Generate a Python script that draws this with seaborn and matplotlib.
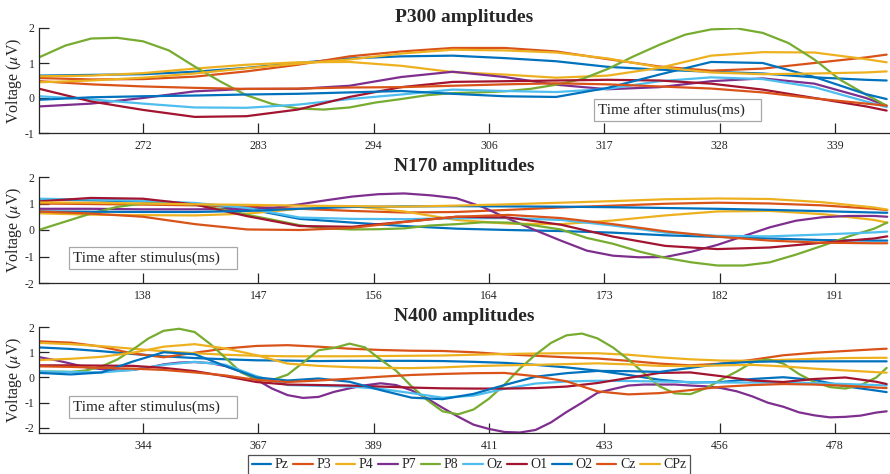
import numpy as np
import pandas as pd
import matplotlib
matplotlib.use("Agg")
import matplotlib.pyplot as plt
from matplotlib.lines import Line2D
from matplotlib.patches import Rectangle
import seaborn as sns

channels = ["Pz", "P3", "P4", "P7", "P8", "Oz", "O1", "O2", "Cz", "CPz"]
colors = ["#0072BD", "#D95319", "#EDB120", "#7E2F8E", "#77AC30",
          "#4DBEEE", "#A2142F", "#0072BD", "#D95319", "#EDB120"]

# ---------------- P300 panel ----------------
p300_time = [262, 267, 272, 277, 282, 287, 292, 297, 302, 307, 312, 317, 322, 327, 332, 337, 342, 344]
p300_Pz  = [0.64, 0.66, 0.68, 0.75, 0.86, 1.00, 1.13, 1.19, 1.21, 1.14, 1.05, 0.89, 0.81, 0.75, 0.70, 0.59, 0.52, 0.50]
p300_P3  = [0.57, 0.53, 0.54, 0.61, 0.76, 0.95, 1.19, 1.33, 1.43, 1.43, 1.33, 1.11, 0.90, 0.78, 0.84, 1.00, 1.16, 1.24]
p300_P4  = [0.62, 0.64, 0.71, 0.84, 0.95, 1.02, 1.03, 0.92, 0.74, 0.67, 0.58, 0.64, 0.86, 1.21, 1.31, 1.30, 1.11, 1.02]
p300_P7  = [-0.24, -0.16, 0.00, 0.19, 0.26, 0.26, 0.35, 0.60, 0.75, 0.60, 0.38, 0.25, 0.31, 0.48, 0.56, 0.41, 0.00, -0.22]
p300_Oz  = [0.05, -0.04, -0.16, -0.27, -0.28, -0.19, -0.03, 0.10, 0.24, 0.20, 0.17, 0.26, 0.48, 0.59, 0.54, 0.31, -0.10, -0.26]
p300_O1  = [0.26, -0.10, -0.34, -0.54, -0.52, -0.33, 0.03, 0.31, 0.46, 0.48, 0.50, 0.52, 0.50, 0.41, 0.24, 0.00, -0.24, -0.36]
p300_O2  = [-0.05, 0.02, 0.05, 0.07, 0.10, 0.12, 0.16, 0.20, 0.12, 0.05, 0.03, 0.29, 0.67, 1.03, 1.00, 0.60, 0.11, -0.03]
p300_Cz  = [0.48, 0.39, 0.33, 0.29, 0.26, 0.27, 0.30, 0.31, 0.35, 0.39, 0.42, 0.39, 0.33, 0.27, 0.16, -0.01, -0.16, -0.22]
p300_CPz = [0.45, 0.50, 0.58, 0.70, 0.85, 0.98, 1.10, 1.27, 1.38, 1.36, 1.30, 1.13, 0.88, 0.73, 0.68, 0.70, 0.73, 0.76]
# P8 oscillates faster, so it was read on a finer time grid
p300_P8_time = [262, 264.5, 267, 269.5, 272, 274.5, 277, 279.5, 282, 284.5, 287, 289.5, 292, 294.5, 297, 299.5,
                302, 304.5, 307, 309.5, 312, 314.5, 317, 319.5, 322, 324.5, 327, 329.5, 332, 334.5, 337, 339.5,
                342, 344]
p300_P8 = [1.17, 1.50, 1.70, 1.72, 1.62, 1.36, 0.90, 0.47, 0.08, -0.17, -0.30, -0.33, -0.27, -0.13, -0.03, 0.08,
           0.14, 0.16, 0.19, 0.26, 0.38, 0.54, 0.83, 1.19, 1.52, 1.81, 1.96, 1.99, 1.86, 1.57, 1.10, 0.52,
           0.10, -0.22]
p300_ticks = [272, 283, 294, 306, 317, 328, 339]

# ---------------- N170 panel ----------------
n170_time = [130, 134, 138, 142, 146, 150, 154, 158, 162, 166, 170, 174, 178, 182, 186, 190, 194, 195]
n170_Pz  = [1.16, 1.12, 1.08, 0.98, 0.80, 0.42, 0.28, 0.15, 0.05, 0.00, -0.04, -0.10, -0.20, -0.26, -0.32, -0.38, -0.40, -0.40]
n170_P3  = [1.00, 0.98, 0.96, 0.93, 0.88, 0.80, 0.72, 0.66, 0.68, 0.76, 0.85, 0.92, 0.99, 1.03, 1.00, 0.93, 0.80, 0.75]
n170_P4  = [0.63, 0.58, 0.56, 0.55, 0.62, 0.80, 0.90, 0.70, 0.38, 0.24, 0.22, 0.36, 0.55, 0.70, 0.72, 0.60, 0.38, 0.28]
n170_Oz  = [1.18, 1.15, 1.10, 1.02, 0.83, 0.47, 0.42, 0.41, 0.44, 0.45, 0.38, 0.17, -0.10, -0.22, -0.24, -0.17, -0.09, -0.06]
n170_O1  = [1.08, 1.21, 1.18, 0.96, 0.52, 0.15, 0.12, 0.31, 0.50, 0.47, 0.20, -0.25, -0.60, -0.72, -0.66, -0.48, -0.32, -0.24]
n170_O2  = [0.70, 0.69, 0.68, 0.68, 0.72, 0.80, 0.87, 0.89, 0.90, 0.89, 0.88, 0.86, 0.83, 0.80, 0.76, 0.71, 0.66, 0.65]
n170_Cz  = [0.70, 0.62, 0.50, 0.22, 0.02, 0.00, 0.08, 0.30, 0.50, 0.57, 0.45, 0.22, -0.05, -0.25, -0.40, -0.48, -0.50, -0.50]
n170_CPz = [1.04, 1.03, 1.00, 0.97, 0.95, 0.92, 0.90, 0.88, 0.92, 0.97, 1.03, 1.09, 1.16, 1.19, 1.17, 1.05, 0.85, 0.77]
# P7 and P8 vary faster, so they were read on a finer time grid
n170_fine_time = [130, 132, 134, 136, 138, 140, 142, 144, 146, 148, 150, 152, 154, 156, 158, 160, 162,
                  164, 166, 168, 170, 172, 174, 176, 178, 180, 182, 184, 186, 188, 190, 192, 194, 195]
n170_P7 = [0.80, 0.80, 0.80, 0.79, 0.78, 0.78, 0.78, 0.79, 0.80, 0.84, 0.97, 1.12, 1.26, 1.35, 1.38, 1.31, 1.20,
           0.87, 0.42, 0.00, -0.40, -0.78, -0.97, -1.03, -1.02, -0.82, -0.56, -0.23, 0.10, 0.35, 0.48, 0.53,
           0.53, 0.50]
n170_P8 = [0.00, 0.31, 0.62, 0.87, 1.00, 1.01, 0.96, 0.78, 0.57, 0.38, 0.18, 0.06, 0.02, 0.03, 0.06, 0.17, 0.22,
           0.29, 0.28, 0.17, 0.02, -0.30, -0.52, -0.81, -1.05, -1.22, -1.34, -1.34, -1.22, -0.93, -0.60, -0.25,
           0.05, 0.28]
n170_ticks = [138, 147, 156, 164, 173, 182, 191]

# ---------------- N400 panel ----------------
n400_time = [324, 330, 336, 342, 348, 354, 360, 366, 372, 378, 384, 390, 396, 402, 408,
             414, 420, 426, 432, 438, 444, 450, 456, 462, 468, 474, 480, 486, 488]
n400_Pz  = [1.19, 1.13, 1.04, 0.93, 0.84, 0.77, 0.72, 0.68, 0.67, 0.65, 0.66, 0.66, 0.66, 0.65, 0.62,
            0.58, 0.50, 0.40, 0.27, 0.10, -0.09, -0.20, -0.18, -0.06, 0.01, -0.10, -0.35, -0.52, -0.58]
n400_P3  = [1.43, 1.38, 1.22, 0.95, 0.80, 0.98, 1.15, 1.25, 1.28, 1.22, 1.14, 1.09, 1.06, 1.05, 1.00,
            0.92, 0.86, 0.80, 0.75, 0.66, 0.55, 0.48, 0.55, 0.70, 0.88, 0.98, 1.05, 1.12, 1.14]
n400_P4  = [1.37, 1.32, 1.24, 1.14, 1.04, 0.96, 0.90, 0.86, 0.84, 0.84, 0.84, 0.85, 0.86, 0.87, 0.90,
            0.93, 0.95, 0.96, 0.96, 0.90, 0.80, 0.72, 0.67, 0.66, 0.70, 0.74, 0.77, 0.78, 0.78]
n400_Oz  = [0.24, 0.22, 0.20, 0.30, 0.50, 0.62, 0.50, 0.05, -0.30, -0.33, -0.36, -0.45, -0.62, -0.80, -0.72,
            -0.45, -0.24, -0.16, -0.13, -0.14, -0.16, -0.18, -0.20, -0.20, -0.20, -0.22, -0.26, -0.30, -0.32]
n400_O1  = [0.48, 0.48, 0.47, 0.46, 0.38, 0.25, 0.05, -0.18, -0.28, -0.30, -0.32, -0.36, -0.40, -0.43, -0.44,
            -0.44, -0.42, -0.36, -0.22, -0.02, 0.18, 0.20, 0.05, -0.12, -0.18, -0.06, 0.00, -0.17, -0.26]
n400_O2  = [0.18, 0.12, 0.20, 0.63, 1.00, 0.92, 0.45, 0.00, -0.12, -0.04, -0.17, -0.50, -0.80, -0.86, -0.65,
            -0.30, 0.03, 0.17, 0.26, 0.25, 0.22, 0.38, 0.55, 0.62, 0.64, 0.64, 0.64, 0.64, 0.64]
n400_Cz  = [0.44, 0.42, 0.38, 0.35, 0.30, 0.20, 0.08, -0.10, -0.18, -0.12, -0.05, 0.03, 0.10, 0.14, 0.17,
            0.18, 0.05, -0.15, -0.55, -0.67, -0.62, -0.50, -0.37, -0.30, -0.26, -0.28, -0.33, -0.40, -0.42]
n400_CPz = [0.69, 0.74, 0.82, 0.98, 1.22, 1.32, 1.15, 0.88, 0.55, 0.46, 0.41, 0.38, 0.37, 0.40, 0.45,
            0.48, 0.50, 0.53, 0.56, 0.52, 0.46, 0.45, 0.48, 0.50, 0.44, 0.35, 0.28, 0.21, 0.19]
# P7 and P8 oscillate faster, so they were read on a finer time grid
n400_fine_time = [324, 327, 330, 333, 336, 339, 342, 345, 348, 351, 354, 357, 360, 363, 366, 369, 372, 375,
                  378, 381, 384, 387, 390, 393, 396, 399, 402, 405, 408, 411, 414, 417, 420, 423, 426, 429,
                  432, 435, 438, 441, 444, 447, 450, 453, 456, 459, 462, 465, 468, 471, 474, 477, 480, 483,
                  486, 488]
n400_P7 = [0.80, 0.69, 0.55, 0.40, 0.33, 0.28, 0.30, 0.39, 0.52, 0.59, 0.61, 0.57, 0.45, 0.23, -0.09, -0.44,
           -0.70, -0.81, -0.77, -0.57, -0.43, -0.31, -0.23, -0.30, -0.51, -0.83, -1.20, -1.55, -1.87, -2.04,
           -2.16, -2.18, -2.08, -1.78, -1.37, -1.00, -0.61, -0.46, -0.32, -0.28, -0.28, -0.28, -0.32, -0.35,
           -0.42, -0.55, -0.75, -1.00, -1.16, -1.38, -1.50, -1.58, -1.56, -1.51, -1.39, -1.34]
n400_P8 = [0.24, 0.23, 0.22, 0.28, 0.44, 0.71, 1.10, 1.54, 1.85, 1.93, 1.80, 1.33, 0.77, 0.20, -0.06, -0.10,
           0.11, 0.59, 1.08, 1.17, 1.34, 1.19, 0.71, 0.27, -0.35, -0.89, -1.34, -1.46, -1.27, -0.84, -0.28,
           0.36, 0.90, 1.37, 1.67, 1.74, 1.55, 1.19, 0.71, 0.17, -0.35, -0.63, -0.66, -0.43, -0.08, 0.24,
           0.60, 0.72, 0.55, 0.14, -0.18, -0.38, -0.44, -0.30, 0.00, 0.38]
n400_ticks = [344, 367, 389, 411, 433, 456, 478]

titles = ["P300 amplitudes", "N170 amplitudes", "N400 amplitudes"]
xlabel_text = "Time after stimulus(ms)"

panels = [
    (titles[0], p300_ticks, [-1, 0, 1, 2],
     [(p300_time, p300_Pz), (p300_time, p300_P3), (p300_time, p300_P4), (p300_time, p300_P7),
      (p300_P8_time, p300_P8), (p300_time, p300_Oz), (p300_time, p300_O1), (p300_time, p300_O2),
      (p300_time, p300_Cz), (p300_time, p300_CPz)]),
    (titles[1], n170_ticks, [-2, -1, 0, 1, 2],
     [(n170_time, n170_Pz), (n170_time, n170_P3), (n170_time, n170_P4), (n170_fine_time, n170_P7),
      (n170_fine_time, n170_P8), (n170_time, n170_Oz), (n170_time, n170_O1), (n170_time, n170_O2),
      (n170_time, n170_Cz), (n170_time, n170_CPz)]),
    (titles[2], n400_ticks, [-2, -1, 0, 1, 2],
     [(n400_time, n400_Pz), (n400_time, n400_P3), (n400_time, n400_P4), (n400_fine_time, n400_P7),
      (n400_fine_time, n400_P8), (n400_time, n400_Oz), (n400_time, n400_O1), (n400_time, n400_O2),
      (n400_time, n400_Cz), (n400_time, n400_CPz)]),
]

# ---------------- layout (pixels of an 890x474 canvas) ----------------
W, H = 890.0, 474.0
ax_left_px, ax_right_px = 38.5, 890.0
tick_first_px, tick_last_px = 143.0, 835.0
ax_rows = [(28.0, 133.0), (177.0, 283.0), (327.0, 433.0)]
ylims = [(-1.0, 2.0), (-2.0, 2.0), (-2.2, 2.0)]
box_px = [(594.0, 99.0, 761.0, 121.0), (69.3, 247.0, 236.7, 269.0), (69.3, 396.0, 236.7, 418.0)]

sns.set_style("ticks")
plt.rcParams["font.family"] = ["Liberation Serif", "DejaVu Serif"]
plt.rcParams["mathtext.fontset"] = "stix"
plt.rcParams["axes.unicode_minus"] = False

ink = "#262626"
fig = plt.figure(figsize=(W / 100, H / 100), dpi=100)

for i, (title, ticks, yticks, series) in enumerate(panels):
    top, bot = ax_rows[i]
    ax = fig.add_axes([ax_left_px / W, 1 - bot / H, (ax_right_px - ax_left_px) / W, (bot - top) / H])

    frames = []
    for ch, (t, v) in zip(channels, series):
        frames.append(pd.DataFrame({"time": np.asarray(t, float),
                                    "voltage": np.asarray(v, float),
                                    "channel": ch}))
    df = pd.concat(frames, ignore_index=True)
    sns.lineplot(data=df, x="time", y="voltage", hue="channel", hue_order=channels,
                 palette=colors, estimator=None, linewidth=1.6, legend=False, ax=ax)

    t0, t1 = ticks[0], ticks[-1]
    scale = (tick_last_px - tick_first_px) / (t1 - t0)
    ax.set_xlim(t0 - (tick_first_px - ax_left_px) / scale, t1 + (ax_right_px - tick_last_px) / scale)
    ax.set_ylim(*ylims[i])
    ax.set_xticks(np.linspace(t0, t1, len(ticks)))
    ax.set_xticklabels([str(t) for t in ticks])
    ax.set_yticks(yticks)
    ax.set_yticklabels([str(v) for v in yticks])
    ax.tick_params(direction="in", length=7, width=0.9, colors=ink, labelsize=8.5)
    ax.tick_params(axis="x", pad=5)
    ax.tick_params(axis="y", pad=3)
    for s in ["top", "right"]:
        ax.spines[s].set_visible(False)
    for s in ["left", "bottom"]:
        ax.spines[s].set_color(ink)
        ax.spines[s].set_linewidth(0.9)

    ax.set_xlabel("")
    ax.set_ylabel("Voltage ($\\mu$V)", fontsize=11.5, color=ink)
    ax.yaxis.set_label_coords((24 - ax_left_px) / (ax_right_px - ax_left_px), 0.5)
    ax.set_title(title, fontsize=14, fontweight="bold", color=ink, pad=4.5)

    bx0, by0, bx1, by1 = box_px[i]
    aw = ax_right_px - ax_left_px
    ah = bot - top
    ax.add_patch(Rectangle(((bx0 - ax_left_px) / aw, (bot - by1) / ah),
                           (bx1 - bx0) / aw, (by1 - by0) / ah,
                           transform=ax.transAxes, facecolor="white",
                           edgecolor="#a8a8a8", linewidth=0.9, zorder=5, clip_on=False))
    ax.text((bx0 + 4 - ax_left_px) / aw, (bot - (by0 + by1) / 2) / ah, xlabel_text,
            transform=ax.transAxes, ha="left", va="center", fontsize=11,
            color=ink, zorder=6)

handles = [Line2D([0], [0], color=c, lw=1.6) for c in colors]
leg = fig.legend(handles, channels, loc="center", bbox_to_anchor=(469 / W, 1 - 465 / H),
                 ncol=10, frameon=True, fancybox=False, edgecolor=ink, fontsize=10,
                 handlelength=1.4, handletextpad=0.25, columnspacing=0.35,
                 borderpad=0.25, borderaxespad=0)
leg.get_frame().set_linewidth(0.9)
for t in leg.get_texts():
    t.set_color(ink)

fig.savefig("out.png", dpi=100)
